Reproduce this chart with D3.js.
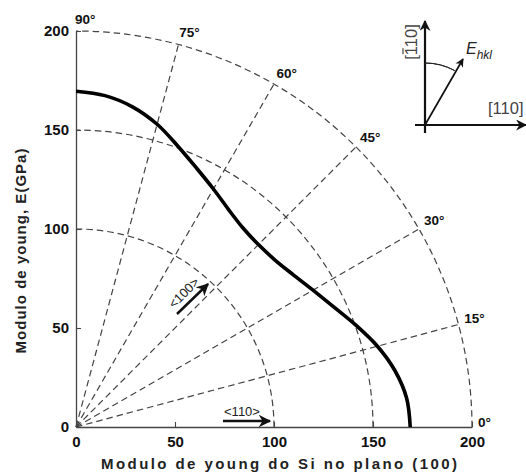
<!DOCTYPE html>
<html>
<head>
<meta charset="utf-8">
<script src="https://cdn.jsdelivr.net/npm/d3@7"></script>
<style>
  body { margin: 0; background: #fff; }
  svg { display: block; font-family: "Liberation Sans", Arial, sans-serif; }
</style>
</head>
<body>
<svg id="chart" width="526" height="474"></svg>
<script>
// values
const angles = [0, 5, 10, 15, 20, 25, 30, 35, 40, 45, 50, 55, 60, 65, 70, 75, 80, 85, 90];
const modulus = [168.8, 167.6, 163.6, 157.6, 150.4, 143.6, 138.2, 134.0, 131.2, 130.3, 131.2, 134.2, 138.8, 144.2, 150.8, 158.3, 164.2, 168.0, 169.6];
const gridRadii = [100, 150, 200];
const spokeAngles = [15, 30, 45, 60, 75];
const angleLabels = [0, 15, 30, 45, 60, 75, 90];
const xTicks = [0, 50, 100, 150, 200];
const yTicks = [0, 50, 100, 150, 200];

const svg = d3.select('#chart');
const x = d3.scaleLinear().domain([0, 200]).range([76, 472]);
const y = d3.scaleLinear().domain([0, 200]).range([427, 31]);
const rad = d => d * Math.PI / 180;
const px = (r, a) => x(r * Math.cos(rad(a)));
const py = (r, a) => y(r * Math.sin(rad(a)));

const defs = svg.append('defs');
defs.append('marker')
    .attr('id', 'head')
    .attr('viewBox', '0 0 10 10')
    .attr('refX', 9).attr('refY', 5)
    .attr('markerWidth', 5).attr('markerHeight', 5)
    .attr('markerUnits', 'strokeWidth')
    .attr('orient', 'auto')
    .append('path')
    .attr('d', 'M0,0 L10,5 L0,10 L3,5 Z')
    .attr('fill', '#111');

const grid = svg.append('g')
    .attr('fill', 'none')
    .attr('stroke', '#444')
    .attr('stroke-width', 1.2)
    .attr('stroke-dasharray', '6.5,4');

// arcs
grid.selectAll('path.arc')
    .data(gridRadii)
    .enter().append('path')
    .attr('class', 'arc')
    .attr('d', r => {
        const p = d3.path();
        const rr = x(r) - x(0);
        p.arc(x(0), y(0), rr, 0, -Math.PI / 2, true);
        return p.toString();
    });

// spokes
grid.selectAll('line.spoke')
    .data(spokeAngles)
    .enter().append('line')
    .attr('class', 'spoke')
    .attr('x1', x(0)).attr('y1', y(0))
    .attr('x2', a => px(200, a))
    .attr('y2', a => py(200, a));

// axes
const xAxis = svg.append('g')
    .attr('transform', `translate(0,${y(0)})`)
    .call(d3.axisBottom(x).tickValues(xTicks).tickSizeInner(-5).tickSizeOuter(0).tickPadding(9));
const yAxis = svg.append('g')
    .attr('transform', `translate(${x(0)},0)`)
    .call(d3.axisLeft(y).tickValues(yTicks).tickSizeInner(-5).tickSizeOuter(0).tickPadding(7));

[xAxis, yAxis].forEach(g => {
    g.select('.domain').attr('stroke', '#444').attr('stroke-width', 1.3);
    g.selectAll('.tick line').attr('stroke', '#444').attr('stroke-width', 1.1);
    g.selectAll('.tick text')
        .attr('fill', '#111')
        .style('font-size', '15px')
        .style('font-weight', 'bold')
        .style('font-family', '"Liberation Sans", Arial, sans-serif');
});
xAxis.selectAll('.tick').filter(d => d === 0).select('line').remove();
yAxis.selectAll('.tick').filter(d => d === 0).select('line').remove();

// angle labels
svg.selectAll('text.ang')
    .data(angleLabels)
    .enter().append('text')
    .attr('class', 'ang')
    .attr('x', a => px(200, a) + 7 * Math.cos(rad(a)) - 1)
    .attr('y', a => py(200, a) - 7.5 * Math.sin(rad(a)))
    .attr('fill', '#111')
    .style('font-size', '13.5px')
    .style('font-weight', 'bold')
    .text(a => a + '°');

// young modulus curve
const pts = angles.map((a, i) => [px(modulus[i], a), py(modulus[i], a)]);
svg.append('path')
    .datum(pts)
    .attr('fill', 'none')
    .attr('stroke', '#000')
    .attr('stroke-width', 3.6)
    .attr('stroke-linejoin', 'round')
    .attr('d', d3.line().curve(d3.curveCatmullRom.alpha(0.5)));

// <100> and <110> annotations
svg.append('line')
    .attr('x1', 177).attr('y1', 314)
    .attr('x2', 208).attr('y2', 284)
    .attr('stroke', '#111').attr('stroke-width', 2.5)
    .attr('marker-end', 'url(#head)');
svg.append('text')
    .attr('transform', 'translate(187,296) rotate(-45)')
    .attr('text-anchor', 'middle')
    .attr('fill', '#222')
    .style('font-size', '13px')
    .text('<100>');

svg.append('line')
    .attr('x1', 223).attr('y1', 421)
    .attr('x2', 270).attr('y2', 421)
    .attr('stroke', '#111').attr('stroke-width', 2.5)
    .attr('marker-end', 'url(#head)');
svg.append('text')
    .attr('x', 242).attr('y', 416)
    .attr('text-anchor', 'middle')
    .attr('fill', '#222')
    .style('font-size', '13px')
    .text('<110>');

// inset
const inset = svg.append('g');
const ox = 425, oy = 125;
inset.append('line')
    .attr('x1', ox).attr('y1', oy + 8).attr('x2', ox).attr('y2', 21)
    .attr('stroke', '#111').attr('stroke-width', 2.2)
    .attr('marker-end', 'url(#head)');
inset.append('line')
    .attr('x1', ox - 10).attr('y1', oy).attr('x2', 526).attr('y2', oy)
    .attr('stroke', '#111').attr('stroke-width', 2.2)
    .attr('marker-end', 'url(#head)');
inset.append('line')
    .attr('x1', ox).attr('y1', oy).attr('x2', 463).attr('y2', 59)
    .attr('stroke', '#111').attr('stroke-width', 1.7)
    .attr('marker-end', 'url(#head)');
inset.append('path')
    .attr('d', d3.arc()({ innerRadius: 62, outerRadius: 62, startAngle: 0, endAngle: 0.5 }))
    .attr('transform', `translate(${ox},${oy})`)
    .attr('fill', 'none')
    .attr('stroke', '#222')
    .attr('stroke-width', 1);

const vg = inset.append('g').attr('transform', 'translate(417,42) rotate(-90)');
const vLabel = vg.append('text')
    .attr('text-anchor', 'middle')
    .attr('fill', '#444')
    .style('font-size', '16.5px')
    .text('[110]');
// bar over the first 1
const c0 = vLabel.node().getStartPositionOfChar(1);
const c1 = vLabel.node().getEndPositionOfChar(1);
vg.append('line')
    .attr('x1', c0.x + 1).attr('x2', c1.x - 1)
    .attr('y1', -14).attr('y2', -14)
    .attr('stroke', '#444').attr('stroke-width', 1.2);

inset.append('text')
    .attr('x', 488).attr('y', 114)
    .attr('fill', '#444')
    .style('font-size', '16.5px')
    .text('[110]');
const eh = inset.append('text')
    .attr('x', 466).attr('y', 54)
    .attr('fill', '#222')
    .style('font-size', '16px')
    .style('font-style', 'italic');
eh.append('tspan').text('E');
eh.append('tspan').attr('dy', 5).style('font-size', '12px').text('hkl');

// axis titles
svg.append('text')
    .attr('x', 279).attr('y', 469)
    .attr('text-anchor', 'middle')
    .attr('textLength', 356)
    .attr('lengthAdjust', 'spacing')
    .attr('fill', '#222')
    .style('font-size', '15px')
    .style('font-weight', 'bold')
    .text('Modulo de young do Si no plano (100)');
svg.append('text')
    .attr('transform', 'translate(26,251) rotate(-90)')
    .attr('text-anchor', 'middle')
    .attr('textLength', 205)
    .attr('lengthAdjust', 'spacing')
    .attr('fill', '#222')
    .style('font-size', '15px')
    .style('font-weight', 'bold')
    .text('Modulo de young, E(GPa)');
</script>
</body>
</html>
